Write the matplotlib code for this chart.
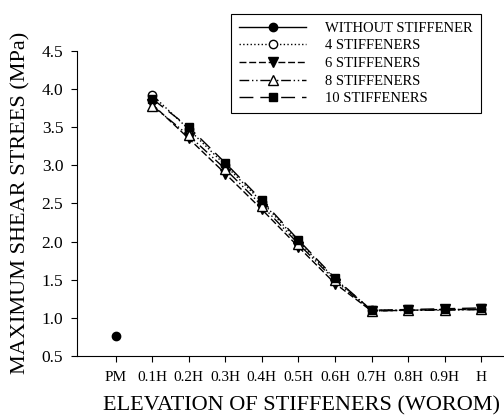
import numpy as np
import matplotlib.pyplot as plt

plt.rcParams['font.family'] = ['Liberation Serif', 'DejaVu Serif']

positions = ['PM', '0.1H', '0.2H', '0.3H', '0.4H', '0.5H', '0.6H', '0.7H', '0.8H', '0.9H', 'H']

# shear stress without stiffener (only at PM)
no_stiff = [0.76]
# stiffened cases at 0.1H ... H
stiff_4 = [3.92, 3.47, 3.00, 2.52, 2.00, 1.51, 1.10, 1.10, 1.11, 1.11]
stiff_6 = [3.80, 3.35, 2.89, 2.42, 1.93, 1.45, 1.09, 1.10, 1.11, 1.11]
stiff_8 = [3.78, 3.39, 2.95, 2.47, 1.97, 1.49, 1.09, 1.10, 1.10, 1.11]
stiff_10 = [3.87, 3.50, 3.03, 2.54, 2.02, 1.52, 1.10, 1.11, 1.12, 1.13]

x = np.arange(len(positions))

fig = plt.figure(figsize=(5.04, 4.15), dpi=100)
ax = fig.add_axes([0.153, 0.142, 0.85, 0.736])

ax.plot(x[:1], no_stiff, '-', marker='o', color='black', ms=6, lw=1,
        label='WITHOUT STIFFENER')
ax.plot(x[1:], stiff_4, ':', marker='o', color='black', mfc='white', ms=6, lw=1,
        label='4 STIFFENERS')
ax.plot(x[1:], stiff_6, marker='v', color='black', ms=6.5, lw=1,
        dashes=(5, 2), label='6 STIFFENERS')
ax.plot(x[1:], stiff_8, marker='^', color='black', mfc='white', ms=6.5, lw=1,
        dashes=(7, 2, 1, 2, 1, 2), label='8 STIFFENERS')
ax.plot(x[1:], stiff_10, marker='s', color='black', ms=6, lw=1,
        dashes=(10, 5), label='10 STIFFENERS')

ax.set_xlim(-1.05, 10.66)
ax.set_ylim(0.5, 4.5)
ax.set_xticks(x)
ax.set_xticklabels(positions, fontsize=11)
ax.set_yticks(np.arange(0.5, 4.6, 0.5))
ax.set_yticklabels([f'{v:.1f}' for v in np.arange(0.5, 4.6, 0.5)], fontsize=12.5)
ax.tick_params(direction='out', length=4, width=0.8, pad=6)
ax.tick_params(axis='x', pad=7)

for s in ['top', 'right']:
    ax.spines[s].set_visible(False)

ax.set_xlabel('ELEVATION OF STIFFENERS (WOROM)', fontsize=16)
ax.xaxis.set_label_coords(0.523, -0.132)
ax.set_ylabel('MAXIMUM SHEAR STREES (MPa)', fontsize=16, labelpad=8)

leg = ax.legend(loc='upper left', bbox_to_anchor=(0.343, 1.145), fontsize=10.5,
                frameon=True, fancybox=False, edgecolor='black', framealpha=1,
                handlelength=4.6, numpoints=1, borderpad=0.55, labelspacing=0.3,
                handletextpad=1.3)
leg.get_frame().set_linewidth(0.8)

fig.savefig('out.png', dpi=100)
